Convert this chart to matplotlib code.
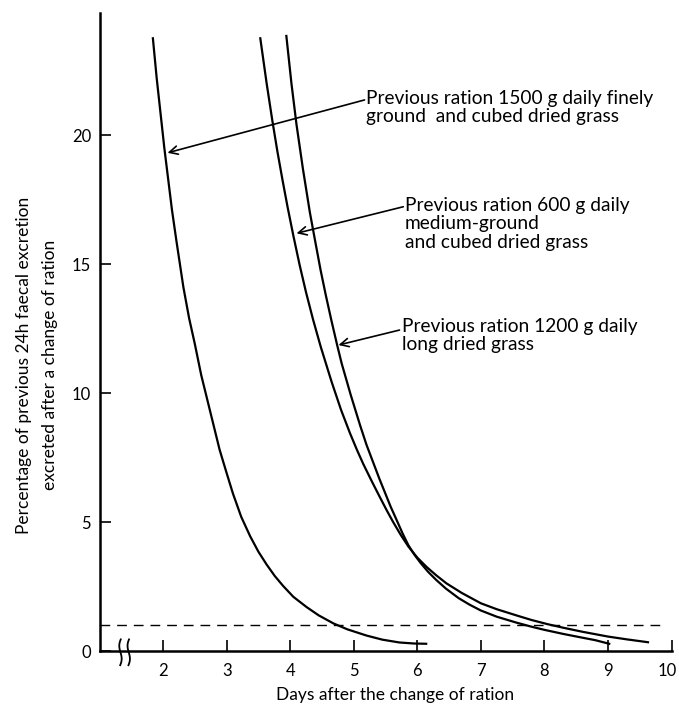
import numpy as np
import matplotlib
matplotlib.use('Agg')
import matplotlib.pyplot as plt
from matplotlib.transforms import ScaledTranslation

plt.rcParams['font.family'] = ['Lato', 'DejaVu Sans']

# Curves (days, % of previous 24 h faecal excretion)
days_1500 = [1.84, 1.90, 1.98, 2.02, 2.07, 2.14, 2.21, 2.32, 2.41, 2.50, 2.60,
             2.71, 2.80, 2.89, 3.00, 3.10, 3.23, 3.37, 3.50, 3.63, 3.76, 3.89,
             4.05, 4.26, 4.45, 4.68, 4.90, 5.20, 5.45, 5.72, 5.95, 6.14]
pct_1500 = [23.75, 22.2, 20.4, 19.5, 18.5, 17.1, 15.9, 14.1, 12.9, 11.9, 10.7,
            9.6, 8.7, 7.8, 6.9, 6.1, 5.2, 4.45, 3.85, 3.35, 2.9, 2.52,
            2.1, 1.7, 1.38, 1.07, 0.84, 0.6, 0.44, 0.33, 0.29, 0.28]

days_600 = [3.53, 3.63, 3.72, 3.80, 3.88, 3.96, 4.05, 4.15, 4.25, 4.36, 4.48,
            4.65, 4.80, 4.94, 5.05, 5.15, 5.28, 5.41, 5.52, 5.62, 5.74, 5.86,
            6.00, 6.15, 6.30, 6.46, 6.70, 7.00, 7.25, 7.56, 7.80, 8.05, 8.30,
            8.61, 9.00, 9.30, 9.63]
pct_600 = [23.75, 22.0, 20.55, 19.35, 18.25, 17.2, 16.1, 14.95, 13.9, 12.85, 11.8,
           10.45, 9.35, 8.45, 7.8, 7.25, 6.6, 5.97, 5.45, 5.0, 4.5, 4.05,
           3.62, 3.25, 2.93, 2.62, 2.25, 1.85, 1.62, 1.38, 1.2, 1.04, 0.9,
           0.74, 0.56, 0.45, 0.34]

days_1200 = [3.94, 4.02, 4.10, 4.20, 4.31, 4.40, 4.48, 4.56, 4.65, 4.74, 4.81,
             4.95, 5.10, 5.20, 5.30, 5.40, 5.49, 5.58, 5.68, 5.77, 5.86, 5.95,
             6.05, 6.17, 6.30, 6.45, 6.65, 6.82, 7.00, 7.25, 7.56, 7.80, 8.00,
             8.30, 8.61, 8.80, 9.02]
pct_1200 = [23.84, 22.0, 20.4, 18.7, 17.0, 15.8, 14.75, 13.8, 12.8, 11.85, 11.15,
            9.95, 8.75, 8.0, 7.35, 6.7, 6.15, 5.6, 5.05, 4.55, 4.1, 3.75,
            3.42, 3.07, 2.75, 2.42, 2.05, 1.8, 1.57, 1.33, 1.1, 0.94, 0.82,
            0.66, 0.51, 0.42, 0.28]

xticks = [2, 3, 4, 5, 6, 7, 8, 9, 10]
yticks = [0, 5, 10, 15, 20]

label_1500 = 'Previous ration 1500 g daily finely\nground  and cubed dried grass'
label_600 = 'Previous ration 600 g daily\nmedium-ground\nand cubed dried grass'
label_1200 = 'Previous ration 1200 g daily\nlong dried grass'

fig = plt.figure(figsize=(6.79, 7.05), dpi=100)
ax = fig.add_axes([99.5/679, 54/705, 572/679, 638/705])

ax.plot(days_1500, pct_1500, color='black', lw=1.6)
ax.plot(days_600, pct_600, color='black', lw=1.6)
ax.plot(days_1200, pct_1200, color='black', lw=1.6)

# 1 % reference line
ax.axhline(1, xmin=0, xmax=0.98, color='black', lw=1.0, dashes=(7, 5))

ax.set_xlim(1, 10)
ax.set_ylim(0, 24.73)
ax.set_xticks(xticks)
ax.set_yticks(yticks)
ax.tick_params(direction='in', length=8, width=1.2, labelsize=12)
ax.tick_params(axis='x', pad=9)
ax.tick_params(axis='y', pad=6)

# keep the "10" inside the figure
last = ax.get_xticklabels()[-1]
last.set_transform(last.get_transform() + ScaledTranslation(-4/100, 0, fig.dpi_scale_trans))

for s in ['top', 'right']:
    ax.spines[s].set_visible(False)
for s in ['left', 'bottom']:
    ax.spines[s].set_linewidth(1.8)

# axis break mark
t = np.linspace(-1, 1, 30)
for x0 in [1.33, 1.46]:
    ax.plot(x0 + 0.03 * np.sin(t * 2.6) - 0.02 * t, -0.5 * t - 0.05, color='black',
            lw=1.3, clip_on=False)

fig.text(395/679, 1 - 695/705, 'Days after the change of ration', fontsize=12.5,
         ha='center', va='center')
fig.text(37/679, 1 - 365/705,
         'Percentage of previous 24h faecal excretion\nexcreted after a change of ration',
         fontsize=12.5, ha='center', va='center', rotation=90, linespacing=1.75)

arrow = dict(arrowstyle='->', color='black', lw=1.2, shrinkA=0, shrinkB=0,
             mutation_scale=15)
ax.annotate('', xy=(2.07, 19.31), xytext=(5.17, 21.36), arrowprops=arrow)
ax.text(5.20, 21.75, label_1500, ha='left', va='top', fontsize=13.8, linespacing=1.1)
ax.annotate('', xy=(4.10, 16.19), xytext=(5.78, 17.22), arrowprops=arrow)
ax.text(5.80, 17.6, label_600, ha='left', va='top', fontsize=13.8, linespacing=1.1)
ax.annotate('', xy=(4.76, 11.86), xytext=(5.72, 12.44), arrowprops=arrow)
ax.text(5.76, 12.91, label_1200, ha='left', va='top', fontsize=13.8, linespacing=1.1)

fig.savefig('out.png', dpi=100)
